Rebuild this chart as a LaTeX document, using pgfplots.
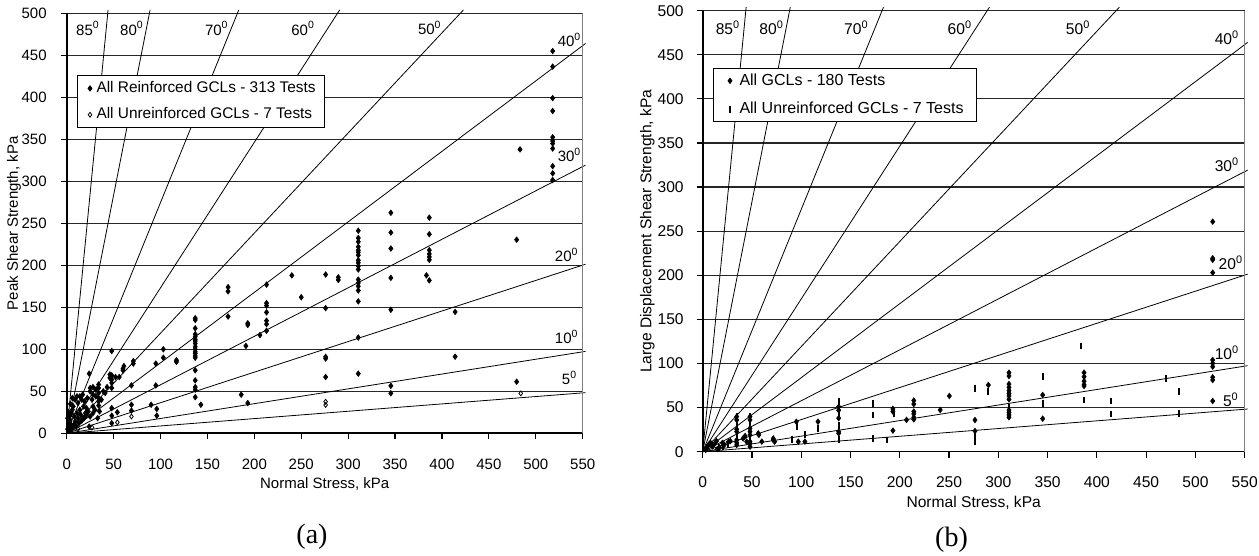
\documentclass[border=0pt]{standalone}
\usepackage{fontspec}
\setmainfont{Liberation Sans}
\newfontfamily\capfont{Liberation Serif}
\usepackage{pgfplots}
\pgfplotsset{compat=1.18}

\newcommand\fa{\fontsize{7.5}{9}\selectfont}
\newcommand\fb{\fontsize{7.8}{9.4}\selectfont}

\pgfplotsset{
  shearbase/.style={
    scale only axis, anchor=south west,
    xmin=0, xmax=550, ymin=0, ymax=500,
    xtick={0,50,...,550}, ytick={0,50,...,500},
    axis x line*=bottom, axis y line*=left,
    axis line style={black, line width=0.8pt},
    tick align=outside, major tick length=3pt,
    tick style={black, line width=0.6pt},
    ymajorgrids, grid style={black!85, line width=0.6pt},
    /pgf/number format/assume math mode=true,
    clip=false,
    xticklabel style={anchor=center, inner sep=0pt},
    yticklabel style={anchor=east, inner sep=0pt},
    xlabel style={anchor=center},
    ylabel style={anchor=center},
    legend cell align=left,
  },
  % gap after the marker is the argument
  keyimage/.style={legend image code/.code={%
    \path (-2pt,0pt) (#1,0pt);
    \draw[mark repeat=2,mark phase=2,##1] plot coordinates {(-1pt,0pt)(0pt,0pt)(1pt,0pt)};}},
  filled/.style={only marks, mark=diamond*, mark size=1.4pt, mark options={fill=black, draw=black, line width=0.3pt}},
  hollow/.style={only marks, mark=diamond, mark size=1.2pt, mark options={draw=black, line width=0.4pt}},
  dash/.style={only marks, mark=|, mark size=1.7pt, mark options={line width=0.95pt}},
  ray/.style={black, line width=0.4pt, forget plot},
}

\begin{document}
\begin{tikzpicture}
\useasboundingbox (0,0) rectangle (629.5pt,278pt);

% ---------------- (a) peak strength ----------------
\begin{axis}[shearbase, keyimage=2.5pt,
  at={(33.35pt,61.35pt)}, width=258pt, height=210pt,
  ticklabel style={font=\fa},
  xticklabel style={yshift=-12.5pt},
  yticklabel style={xshift=-6.85pt},
  label style={font=\fa},
  xlabel={Normal Stress, kPa},
  ylabel={Peak Shear Strength, kPa},
  xlabel style={at={(axis description cs:0.5,-0.121)}},
  ylabel style={at={(axis description cs:-0.102,0.5)}},
  legend style={at={(0.020,0.853)}, anchor=north west, draw=black, line width=0.5pt,
    font=\fontsize{7.7}{9}\selectfont, inner xsep=4pt, inner ysep=2.4pt, row sep=5.1pt,
    nodes={inner sep=0.5pt}},
]
\addplot[ray] coordinates {(0,0) (553,48.38)};
\addplot[ray] coordinates {(0,0) (553,97.51)};
\addplot[ray] coordinates {(0,0) (553,201.28)};
\addplot[ray] coordinates {(0,0) (553,319.28)};
\addplot[ray] coordinates {(0,0) (553,464.02)};
\addplot[ray] coordinates {(0,0) (422.9,504)};
\addplot[ray] coordinates {(0,0) (290.98,504)};
\addplot[ray] coordinates {(0,0) (183.44,504)};
\addplot[ray] coordinates {(0,0) (88.87,504)};
\addplot[ray] coordinates {(0,0) (44.09,504)};

\addplot[filled] coordinates {
(2,12)(3,20)(3.5,8)(3.5,16)(5,10)(5,24)(6,28)(7,32)(8,20)(9,14)(9,40)(11,24)(11,44)
(12,18)(12,36)(14,28)(14,44)(15,22)(16,40)(17,46)(18,32)(18.5,18)(20,24)(21,22)(21,30)
(1,5)(2,3)(4,4)(6,6)(8,10)(10,8)(1,18)(2,25)(4,35)(6,42)(13,12)(16,15)(19,38)(22,42)
(23,26)(24,71)(25,20)(25,50)(25,54)(27,40)(28,24)(28,32)(28,46)(28,55)(30,28)(31,44)
(31,52)(34,33)(34,38)(34,42)(34,48)(34,54)(34,58)(35,26)(37,40)(33,18)(24,8)(39,50)
(41,48)(43,55)(46,66)(46,70)(48,98)(48,64)(48,60)(48,54)(48,69)(48,30)(48,21)(48,12)
(52,67)(54,25)(56,67)(60,75)(60,77)(61,80)(69,57)(69,34)(69,27)(71,83)(71,86)(90,34)
(95,83)(95,57)(96,29)(96,21)(103,100)(103,90)(117,87)(117,85)
(137,137)(137,135)(137,125)(137,118)(137,115)(137,112)(137,110)(137,107)(137,103)
(137,100)(137,97)(137,95)(137,92)(137,90)(137,75)(137,63)(137,55)(137,52)(137,43)
(143,34)(172,174)(172,169)(172,139)(186,46)(191,104)(193,131)(193,129)(193,36)(206,117)
(213,177)(213,155)(213,152)(213,144)(213,134)(213,130)(213,122)(240,188)(250,162)
(276,189)(276,149)(276,91)(276,89)(276,67)(289.5,185.7)(289.5,182.5)
(310.8,241.2)(310.8,232.5)(310.8,228)(310.8,222)(310.8,218)(310.8,215.5)(310.8,212)
(310.8,206)(310.8,203)(310.8,199)(310.8,195)(310.8,183)(310.8,179)(310.8,175)
(310.8,170)(310.8,157)(310.8,114)(310.8,71)
(345.5,262.5)(345.5,239)(345.5,220)(345.5,185)(345.5,147)(345.5,56.5)(345.5,47.6)
(383.5,188)(386.5,256.7)(386.5,237)(386.5,218)(386.5,213.5)(386.5,210)(386.5,206.5)
(386.5,182)(414,144.5)(414,91.2)(479.6,230.5)(479.6,61.4)(483.2,338)
(518,455)(518,436.5)(518,399)(518,383.7)(518,352.4)(518,348)(518,345)(518,339)
(518,318)(518,309.5)(518,301.5)
};
\addlegendentry{All Reinforced GCLs - 313 Tests}
\addplot[hollow] coordinates {(12,5)(27,7)(54,13)(69,20)(276,37.6)(276,33.7)(484,47.5)};
\addlegendentry{All Unreinforced GCLs - 7 Tests}

\draw[black!50, line width=0.6pt] (rel axis cs:1,0) -- (rel axis cs:1,1);

\node[font=\fa] at (axis cs:22.7,482) {85\textsuperscript{0}};
\node[font=\fa] at (axis cs:69.6,482) {80\textsuperscript{0}};
\node[font=\fa] at (axis cs:160,482) {70\textsuperscript{0}};
\node[font=\fa] at (axis cs:252,482) {60\textsuperscript{0}};
\node[font=\fa] at (axis cs:387,483) {50\textsuperscript{0}};
\node[font=\fa] at (axis cs:536,468) {40\textsuperscript{0}};
\node[font=\fa] at (axis cs:536,331) {30\textsuperscript{0}};
\node[font=\fa] at (axis cs:533,212) {20\textsuperscript{0}};
\node[font=\fa] at (axis cs:533,115) {10\textsuperscript{0}};
\node[font=\fa] at (axis cs:536,66) {5\textsuperscript{0}};
\end{axis}

% ---------------- (b) large displacement strength ----------------
\begin{axis}[shearbase, keyimage=4pt,
  at={(351.35pt,52.15pt)}, width=271pt, height=220.5pt,
  ticklabel style={font=\fb},
  xticklabel style={yshift=-12pt},
  yticklabel style={xshift=-6.35pt},
  label style={font=\fb},
  xlabel={Normal Stress, kPa},
  ylabel={Large Displacement Shear Strength, kPa},
  xlabel style={at={(axis description cs:0.5,-0.1156)}},
  ylabel style={at={(axis description cs:-0.102,0.5)}},
  legend style={at={(0.019,0.870)}, anchor=north west, draw=black, line width=0.5pt,
    font=\fontsize{8.0}{9.4}\selectfont, inner xsep=6pt, inner ysep=2pt, row sep=5.9pt,
    nodes={inner sep=0.5pt}},
]
\addplot[ray] coordinates {(0,0) (553,48.38)};
\addplot[ray] coordinates {(0,0) (553,97.51)};
\addplot[ray] coordinates {(0,0) (553,201.28)};
\addplot[ray] coordinates {(0,0) (553,319.28)};
\addplot[ray] coordinates {(0,0) (553,464.02)};
\addplot[ray] coordinates {(0,0) (422.9,504)};
\addplot[ray] coordinates {(0,0) (290.98,504)};
\addplot[ray] coordinates {(0,0) (183.44,504)};
\addplot[ray] coordinates {(0,0) (88.87,504)};
\addplot[ray] coordinates {(0,0) (44.09,504)};

\addplot[filled] coordinates {
(4,4)(6,8)(8,10)(10,6)(12,9)(14,12)(17,5)(20,10)(22,8)(26,11)(28,12)(3,2)(15,3)
(34.5,39.8)(34.5,36)(34.5,25.4)(34.5,22.7)(34.5,13.3)(34.5,10.2)(34.5,7.6)
(41,15)(43,17.8)(44.6,11.4)
(48,39.8)(48,36)(48,26.5)(48,22.7)(48,19)(48,11.4)(48,9.5)(48,5.7)
(56.4,20.8)(57,19)(60,11.4)(71.6,15)(71.6,13.3)(73,11.4)(95,34)(97,11.4)(103.7,11.4)
(117,34)(138,51)(138,47)(138,38)(138,22.7)(138,20.8)
(193,48.5)(193,45.5)(193,23.9)(206.8,36)
(214.2,58)(214.2,54)(214.2,45.5)(214.2,42.8)(214.2,39)(214.2,36.7)
(241,47.3)(250.3,63.2)(276.3,35.9)(276.3,23.5)(289.9,75.6)
(310.8,89.6)(310.8,85.8)(310.8,76.7)(310.8,73)(310.8,69.2)(310.8,66)(310.8,63.2)
(310.8,59.4)(310.8,47.3)(310.8,44.5)(310.8,41.6)(310.8,39)
(345,64.3)(345,37.4)(387,89.6)(387,85)(387,80)(387,76)(387,74.5)
(517.5,260.8)(517.5,219.3)(517.5,217.6)(517.5,203)(517.5,104)(517.5,100.2)
(517.5,96.4)(517.5,84.4)(517.5,81.3)(517.5,57.5)
};
\addlegendentry{All GCLs - 180 Tests}
\addplot[dash] coordinates {
(16,6)(21,6)(26,7.5)(34.5,16)(34.5,30)(34.5,40)(48,7)(48,15)(48,30)(48,40)
(90.3,14.2)(95.4,28.3)(103.8,19.8)(117.3,26.5)(138,14)(138,30)(138,42)(138,57)
(173.2,54.8)(173.2,41.6)(173.2,15.2)(186.7,13.3)(194,43.5)
(276.3,71.9)(276.3,19)(276.3,11.3)(289.9,68)(310.8,50)(310.8,43)
(345,85)(345,54.9)(383.6,119.8)(387,58.6)(387,82)(414.4,57.5)(414.4,42.7)
(470.2,83.2)(483.4,68)(483.4,43.5)
};
\addlegendentry{All Unreinforced GCLs - 7 Tests}

\draw[black!50, line width=0.6pt] (rel axis cs:1,0) -- (rel axis cs:1,1);

\node[font=\fb] at (axis cs:25.7,481) {85\textsuperscript{0}};
\node[font=\fb] at (axis cs:70,481) {80\textsuperscript{0}};
\node[font=\fb] at (axis cs:156,481) {70\textsuperscript{0}};
\node[font=\fb] at (axis cs:261,481) {60\textsuperscript{0}};
\node[font=\fb] at (axis cs:381,481) {50\textsuperscript{0}};
\node[font=\fb] at (axis cs:532,469) {40\textsuperscript{0}};
\node[font=\fb] at (axis cs:532,325) {30\textsuperscript{0}};
\node[font=\fb] at (axis cs:536,214) {20\textsuperscript{0}};
\node[font=\fb] at (axis cs:532,112) {10\textsuperscript{0}};
\node[font=\fb] at (axis cs:536,58.6) {5\textsuperscript{0}};
\end{axis}

\node[font=\capfont\fontsize{14}{16}\selectfont] at (156pt,9.5pt) {(a)};
\node[font=\capfont\fontsize{14}{16}\selectfont] at (475.75pt,8pt) {(b)};
\end{tikzpicture}
\end{document}
